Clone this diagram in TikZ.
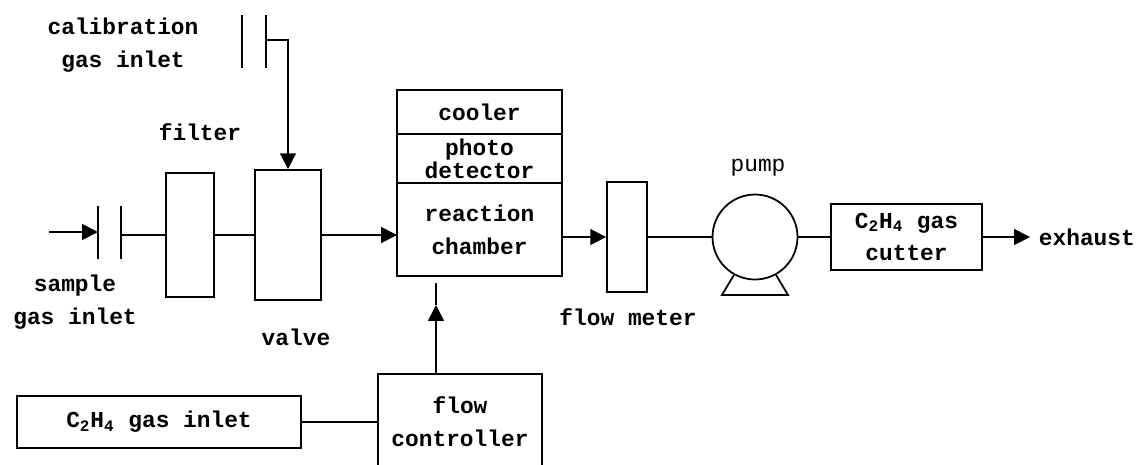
\documentclass[tikz,border=0pt]{standalone}
\usepackage{fontspec}
\setmainfont{Liberation Mono}
\usetikzlibrary{arrows.meta, positioning}

\begin{document}
\begin{tikzpicture}[x=0.02cm, y=-0.02cm, line width=1pt,
    font=\fontsize{13}{18.7}\selectfont\bfseries,
    box/.style={draw, rectangle, align=center, inner sep=0pt},
    lbl/.style={align=center, inner sep=0pt},
    arr/.style={-{Triangle[length=9pt, width=9pt]}}]
    \useasboundingbox (0,0) rectangle (1141,464);
    % calibration gas inlet
    \node[lbl] (calib) at (123,45) {calibration\\gas inlet};
    \coordinate (ca1) at (242,15);
    \coordinate (ca2) at (266,15);
    \draw (ca1) -- ++(0,53);
    \draw (ca2) -- ++(0,53);
    % sample gas inlet
    \node[lbl] (sample) at (75,302) {sample\\gas inlet};
    \coordinate (sin) at (49,232);
    \coordinate (sa1) at (98,206);
    \coordinate (sa2) at (121,206);
    \draw (sa1) -- ++(0,53);
    \draw (sa2) -- ++(0,53);
    % filter and valve
    \node[box, minimum width=0.96cm, minimum height=2.48cm] (filt) at (190,235) {};
    \node[lbl] (filtlbl) at (200,132) {filter};
    \node[box, minimum width=1.32cm, minimum height=2.6cm] (valve) at (288,235) {};
    \node[lbl] (valvelbl) at (296,337) {valve};
    % chamber stack
    \node[box, outer sep=0pt, minimum width=3.3cm, minimum height=0.88cm] (cool) at (479.5,112) {cooler};
    \node[box, outer sep=0pt, minimum width=3.3cm, minimum height=0.98cm, below=0pt of cool,
          font=\fontsize{13}{12}\selectfont\bfseries] (photo) {photo\\detector};
    \node[box, outer sep=0pt, minimum width=3.3cm, minimum height=1.86cm, below=0pt of photo] (react) {reaction\\chamber};
    % flow meter, pump, cutter
    \node[box, minimum width=0.8cm, minimum height=2.2cm] (fm) at (627,237) {};
    \node[lbl] (fmlbl) at (628,317) {flow meter};
    \node[draw, circle, minimum size=1.7cm, inner sep=0pt] (pump) at (755,237) {};
    \node[lbl, font=\fontsize{13}{18.7}\selectfont] (pumplbl) at (758,168) {pump};
    \node[box, minimum width=3.02cm, minimum height=1.32cm] (cut) at (906.5,237) {C\textsubscript{2}H\textsubscript{4} gas\\cutter};
    \node[lbl, anchor=west] (exh) at (1038,237) {exhaust};
    \coordinate (exhtip) at (1030,237);
    % ethylene supply
    \node[box, minimum width=5.68cm, minimum height=1.04cm] (c2in) at (159,422) {C\textsubscript{2}H\textsubscript{4} gas inlet};
    \node[box, minimum width=3.28cm, minimum height=1.92cm] (ctrl) at (460,422) {flow\\controller};
    \coordinate (ctip) at (436,305);
    \coordinate (cend) at (436,283);

    \draw[arr] (ca2 |- 0,40) -| (valve.north);
    \draw[arr] (sin) -- (sin -| sa1);
    \draw (sa2 |- filt.west) -- (filt.west);
    \draw (filt.east) -- (valve.west);
    \draw[arr] (valve.east) -- (valve.east -| react.west);
    \draw[arr] (fm.west -| react.east) -- (fm.west);
    \draw (fm.east) -- (pump.west);
    \draw (pump.east) -- (cut.west);
    \draw[arr] (cut.east) -- (exhtip);
    \draw (pump.241) -- ++(-12,20) -- ++(66,0) -- (pump.299);
    \draw (c2in.east) -- (ctrl.west);
    \draw[arr] (ctip |- ctrl.north) -- (ctip);
    \draw (ctip) -- (cend);
\end{tikzpicture}
\end{document}
